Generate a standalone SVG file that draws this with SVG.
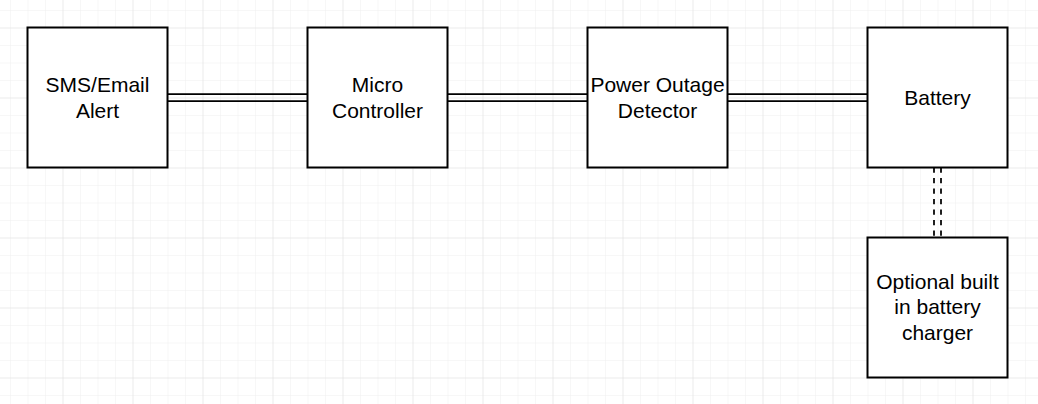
<svg xmlns="http://www.w3.org/2000/svg" width="1038" height="404" viewBox="0 0 1038 404">
  <defs>
    <pattern id="minor" x="10" y="10" width="17.5" height="17.5" patternUnits="userSpaceOnUse">
      <path d="M 0 0 L 17.5 0 M 0 0 L 0 17.5" fill="none" stroke="#f0f0f0" stroke-width="1"/>
    </pattern>
    <pattern id="major" x="62.5" y="27.5" width="70" height="70" patternUnits="userSpaceOnUse">
      <path d="M 0 0 L 70 0 M 0 0 L 0 70" fill="none" stroke="#e2e2e2" stroke-width="1"/>
    </pattern>
    <style>
      .box { fill: #ffffff; stroke: #000000; stroke-width: 2; }
      .lbl { font-family: "Liberation Sans", Arial, sans-serif; font-size: 21px; fill: #000000; text-anchor: middle; }
      .link { fill: none; stroke: #000000; stroke-width: 1.75; }
      .dash { fill: none; stroke: #000000; stroke-width: 1.75; stroke-dasharray: 5.25 5.25; }
    </style>
  </defs>
  <rect x="0" y="0" width="1038" height="404" fill="#ffffff"/>
  <rect x="0" y="0" width="1038" height="404" fill="url(#minor)"/>
  <rect x="0" y="0" width="1038" height="404" fill="url(#major)"/>

  <g id="connectors">
    <path class="link" d="M 167.5 94 L 307.5 94 M 167.5 101 L 307.5 101"/>
    <path class="link" d="M 447.5 94 L 587.5 94 M 447.5 101 L 587.5 101"/>
    <path class="link" d="M 727.5 94 L 867.5 94 M 727.5 101 L 867.5 101"/>
    <path class="dash" d="M 934 167.5 L 934 237.5 M 941 167.5 L 941 237.5"/>
  </g>

  <g id="sms">
    <rect class="box" x="27.5" y="27.5" width="140" height="140"/>
    <text class="lbl" x="97.5" y="92">SMS/Email</text>
    <text class="lbl" x="97.5" y="118">Alert</text>
  </g>
  <g id="micro">
    <rect class="box" x="307.5" y="27.5" width="140" height="140"/>
    <text class="lbl" x="377.5" y="92">Micro</text>
    <text class="lbl" x="377.5" y="118">Controller</text>
  </g>
  <g id="detector">
    <rect class="box" x="587.5" y="27.5" width="140" height="140"/>
    <text class="lbl" x="657.5" y="92">Power Outage</text>
    <text class="lbl" x="657.5" y="118">Detector</text>
  </g>
  <g id="battery">
    <rect class="box" x="867.5" y="27.5" width="140" height="140"/>
    <text class="lbl" x="937.5" y="105">Battery</text>
  </g>
  <g id="charger">
    <rect class="box" x="867.5" y="237.5" width="140" height="140"/>
    <text class="lbl" x="937.5" y="288.5">Optional built</text>
    <text class="lbl" x="937.5" y="314">in battery</text>
    <text class="lbl" x="937.5" y="339.5">charger</text>
  </g>
</svg>
